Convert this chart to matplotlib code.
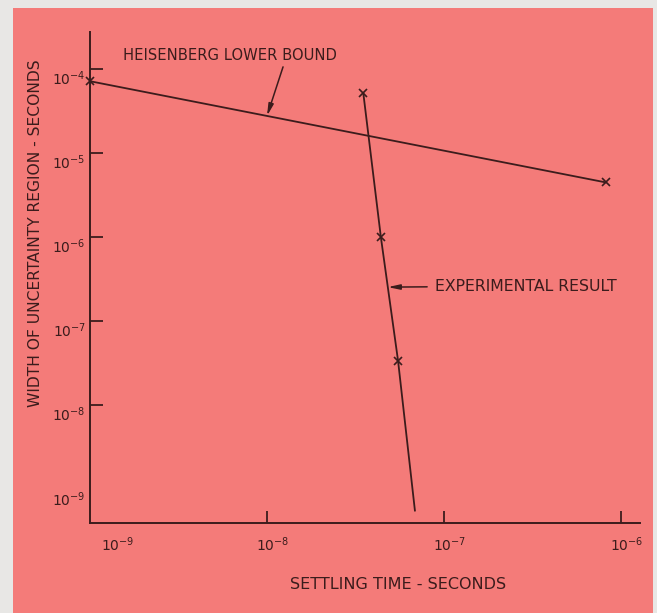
import matplotlib
matplotlib.use('Agg')
import matplotlib.pyplot as plt
import matplotlib.transforms as mtrans
from matplotlib.patches import Rectangle
import numpy as np

# Heisenberg lower bound (two end points)
heis_x = [1.0e-9, 8.2e-7]
heis_y = [7.2e-5, 4.5e-6]

# experimental points (x marks) and the end of the drawn line
exp_x = [3.5e-8, 4.4e-8, 5.5e-8]
exp_y = [5.2e-5, 1.0e-6, 3.4e-8]
exp_end_x = 6.85e-8
exp_end_y = 5.6e-10

x_ticks = [1e-9, 1e-8, 1e-7, 1e-6]
x_labels = ['$10^{-9}$', '$10^{-8}$', '$10^{-7}$', '$10^{-6}$']
y_ticks = [1e-9, 1e-8, 1e-7, 1e-6, 1e-5, 1e-4]
y_labels = ['$10^{-9}$', '$10^{-8}$', '$10^{-7}$', '$10^{-6}$', '$10^{-5}$', '$10^{-4}$']

ink = '#3b1c1c'
pink = '#f47b79'
plt.rcParams['mathtext.fontset'] = 'dejavusans'

fig = plt.figure(figsize=(6.57, 6.13), dpi=100, facecolor='#e8e7e5')
fig.add_artist(Rectangle((13/657, 0), 640/657, 605/613, transform=fig.transFigure,
                         facecolor=pink, edgecolor='none', zorder=0))

ax = fig.add_axes([90/657, 1-523/613, 550/657, 491/613])
ax.set_facecolor('none')
ax.set_xscale('log')
ax.set_yscale('log')
ax.set_xlim(1e-9, 10**(-9 + 550/177))
ax.set_ylim(10**-9.40, 10**-3.557)

ax.plot(heis_x, heis_y, color=ink, lw=1.3)
ax.plot(heis_x, heis_y, ls='none', marker='x', ms=6, mew=1.2, color=ink, clip_on=False)
ax.plot(exp_x + [exp_end_x], exp_y + [exp_end_y], color=ink, lw=1.3)
ax.plot(exp_x, exp_y, ls='none', marker='x', ms=6, mew=1.2, color=ink)

for s in ['top', 'right']:
    ax.spines[s].set_visible(False)
for s in ['left', 'bottom']:
    ax.spines[s].set_color(ink)
    ax.spines[s].set_linewidth(1.4)

ax.set_xticks(x_ticks, x_labels)
ax.set_yticks(y_ticks, y_labels)
ax.minorticks_off()
ax.tick_params(direction='in', length=9, width=1.3, color=ink, labelcolor=ink,
               labelsize=10)
ax.tick_params(axis='x', pad=9)
ax.tick_params(axis='y', pad=3)

for i, lab in enumerate(ax.get_xticklabels()):
    dx = 20 if i == 0 else 4
    lab.set_transform(lab.get_transform() + mtrans.ScaledTranslation(dx/72, 0, fig.dpi_scale_trans))
for lab in ax.get_yticklabels():
    lab.set_transform(lab.get_transform() + mtrans.ScaledTranslation(0, -6/72, fig.dpi_scale_trans))
ax.xaxis.get_major_ticks()[0].tick1line.set_visible(False)
ax.yaxis.get_major_ticks()[0].tick1line.set_visible(False)

ax.set_xlabel('SETTLING TIME - SECONDS', fontsize=11.5, color=ink)
ax.set_ylabel('WIDTH OF UNCERTAINTY REGION - SECONDS', fontsize=11.2, color=ink)
ax.yaxis.set_label_coords(-0.085, 0.59)
ax.xaxis.set_label_coords(0.56, -0.109)

# arrow tips sit on the drawn lines
lx = np.log10(heis_x)
ly = np.log10(heis_y)
tip_x = 1e-8
tip_y = 10**np.interp(np.log10(tip_x), lx, ly)
ax.text(0.06, 0.953, 'HEISENBERG LOWER BOUND', transform=ax.transAxes,
        fontsize=10.6, color=ink, va='center', ha='left')
ax.annotate('', xy=(tip_x, tip_y), xytext=(0.351, 0.929), textcoords='axes fraction',
            arrowprops=dict(arrowstyle='-|>,head_length=0.7,head_width=0.15',
                            lw=1.1, color=ink, shrinkA=0, shrinkB=0))

ex = np.log10(exp_x + [exp_end_x])[::-1]
ey = np.log10(exp_y + [exp_end_y])[::-1]
tip2_y = 10**-6.593
tip2_x = 10**np.interp(np.log10(tip2_y), ey, ex)
ax.text(0.627, 0.481, 'EXPERIMENTAL RESULT', transform=ax.transAxes,
        fontsize=11.3, color=ink, va='center', ha='left')
ax.annotate('', xy=(tip2_x, tip2_y), xytext=(0.613, 0.481), textcoords='axes fraction',
            arrowprops=dict(arrowstyle='-|>,head_length=0.7,head_width=0.15',
                            lw=1.1, color=ink, shrinkA=0, shrinkB=0))

fig.savefig('out.png', dpi=100, facecolor=fig.get_facecolor())
